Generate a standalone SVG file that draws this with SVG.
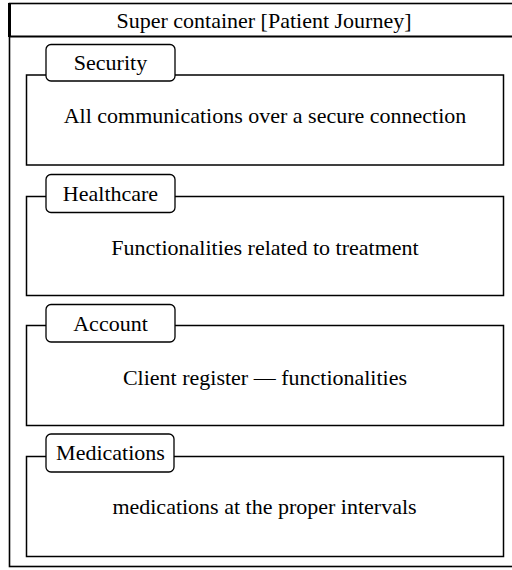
<svg xmlns="http://www.w3.org/2000/svg" width="512" height="570" viewBox="0 0 512 570">
  <style>
    .frame { fill: #ffffff; stroke: #000000; stroke-width: 1.6; }
    .box { fill: #ffffff; stroke: #000000; stroke-width: 1.5; }
    .tag { fill: #ffffff; stroke: #000000; stroke-width: 1.3; }
    .lbl { font-size: 22px; fill: #000000; text-anchor: middle; }
  </style>
  <rect width="512" height="570" fill="#ffffff"/>

  <!-- outer container -->
  <g id="super-container" font-family="Liberation Serif, Times New Roman, Tinos, serif">
    <rect class="frame" x="9.5" y="3.5" width="510" height="563"/>
    <line x1="9.5" y1="3" x2="9.5" y2="37" stroke="#000000" stroke-width="3"/>
    <line x1="9" y1="36.5" x2="512" y2="36.5" stroke="#000000" stroke-width="2"/>
    <text class="lbl" x="264" y="28">Super container [Patient Journey]</text>
  </g>

  <g id="security" font-family="Liberation Serif, Times New Roman, Tinos, serif">
    <rect class="box" x="26.5" y="75" width="477" height="90"/>
    <rect class="tag" x="46" y="44.5" width="129" height="36.5" rx="5"/>
    <text class="lbl" x="110.5" y="70">Security</text>
    <text class="lbl" x="265" y="123">All communications over a secure connection</text>
  </g>

  <g id="healthcare" font-family="Liberation Serif, Times New Roman, Tinos, serif">
    <rect class="box" x="26.5" y="196.5" width="477" height="99"/>
    <rect class="tag" x="46" y="174.5" width="129" height="38" rx="5"/>
    <text class="lbl" x="110.5" y="201">Healthcare</text>
    <text class="lbl" x="265" y="255">Functionalities related to treatment</text>
  </g>

  <g id="account" font-family="Liberation Serif, Times New Roman, Tinos, serif">
    <rect class="box" x="26.5" y="325.5" width="477" height="100"/>
    <rect class="tag" x="46" y="304.5" width="129" height="37.5" rx="5"/>
    <text class="lbl" x="110.5" y="331">Account</text>
    <text class="lbl" x="265" y="385">Client register — functionalities</text>
  </g>

  <g id="medications" font-family="Liberation Serif, Times New Roman, Tinos, serif">
    <rect class="box" x="26.5" y="456.5" width="477" height="100"/>
    <rect class="tag" x="46" y="434" width="128" height="38" rx="5"/>
    <text class="lbl" x="110.5" y="460">Medications</text>
    <text class="lbl" x="264.5" y="514">medications at the proper intervals</text>
  </g>

  <g id="connectors"></g>
</svg>
